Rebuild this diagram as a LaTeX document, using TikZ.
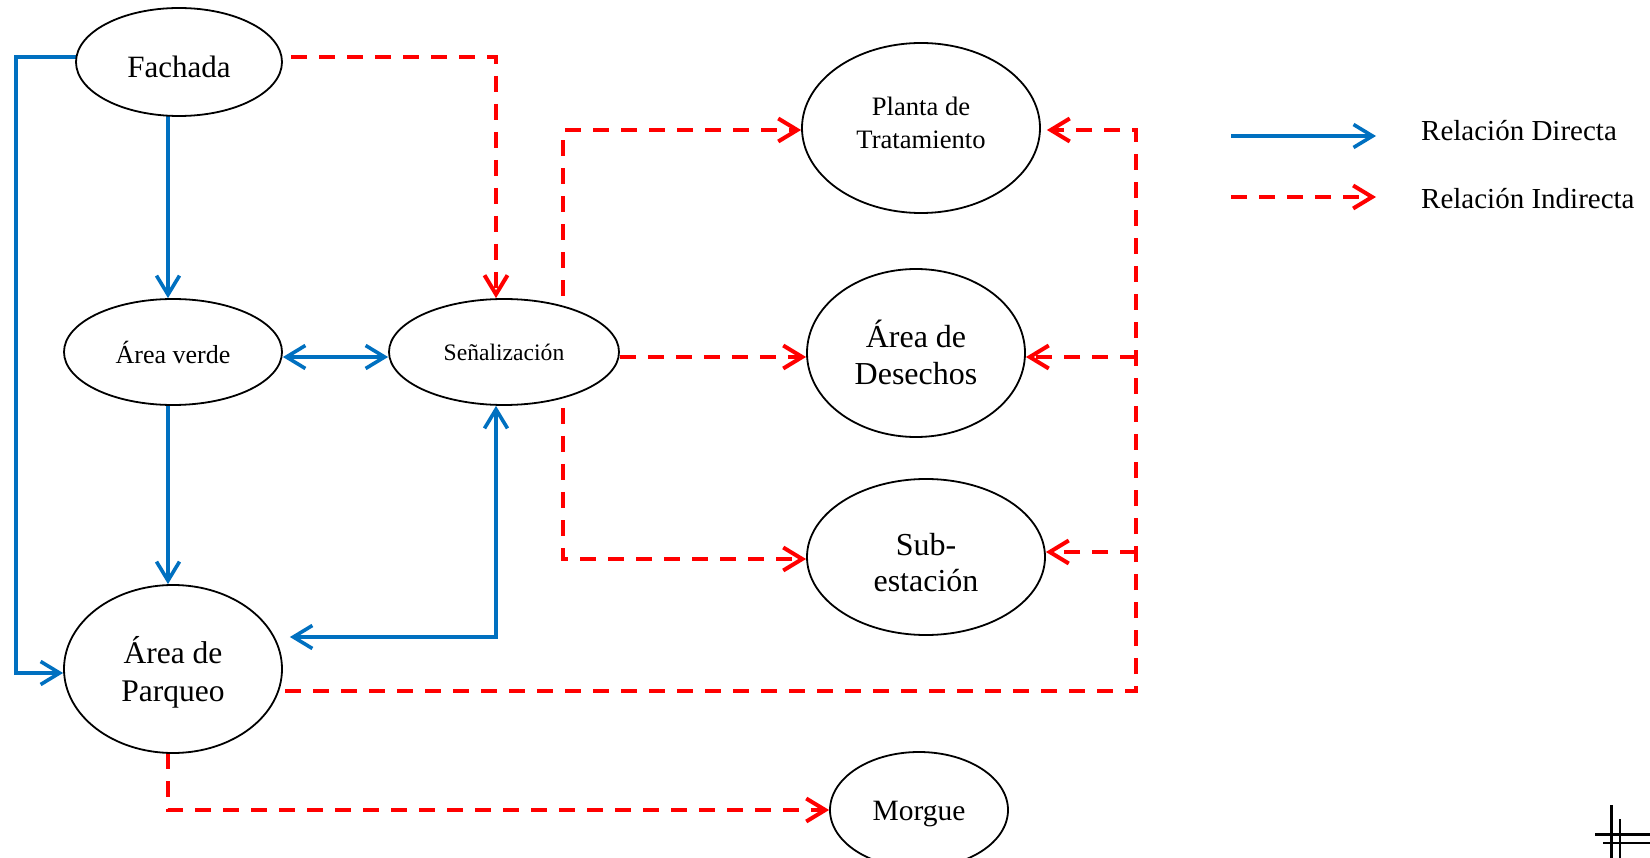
\documentclass[tikz,border=0pt]{standalone}
\usepackage{fontspec}
\setmainfont{Liberation Serif}
\usetikzlibrary{shapes.geometric,arrows.meta,backgrounds}
\definecolor{relblue}{HTML}{0070C0}
\definecolor{relred}{HTML}{FF0000}
\newcommand{\fsz}[2]{\fontsize{#1pt}{#2pt}\selectfont}
% label text lowered (negative) or raised (positive) inside its ellipse
\newcommand{\lbl}[2]{\raisebox{#1}[\height][\depth]{\begin{tabular}{@{}c@{}}#2\end{tabular}}}

\begin{document}
\begin{tikzpicture}[x=1pt,y=-1pt,
  area/.style={ellipse, draw=black, line width=1.8pt, fill=white, inner sep=0pt},
  dir/.style={draw=relblue, line width=3.6pt, -{Straight Barb[length=19pt,width=23pt]}},
  dirboth/.style={draw=relblue, line width=3.6pt, {Straight Barb[length=19pt,width=23pt]}-{Straight Barb[length=19pt,width=23pt]}},
  ind/.style={draw=relred, line width=4pt, dash pattern=on 16pt off 12pt, -{Straight Barb[length=19pt,width=23pt]}},
  legendtext/.style={anchor=west, inner sep=0pt, font=\fsz{29}{32}},
  cropmark/.style={draw=black, line cap=butt}
]
\useasboundingbox (0,0) rectangle (1650,858);

% areas of the building
\node[area, minimum width=206pt, minimum height=108pt, font=\fsz{31}{34}] (fach) at (179,62) {\lbl{-9pt}{Fachada}};
\node[area, minimum width=218pt, minimum height=106pt, font=\fsz{26}{29}] (verde) at (173,352) {\lbl{-5pt}{Área verde}};
\node[area, minimum width=230pt, minimum height=106pt, font=\fsz{23.6}{26}] (senal) at (504,352) {\lbl{-3pt}{Señalización}};
\node[area, minimum width=238pt, minimum height=170pt, font=\fsz{26.6}{33}] (planta) at (921,128) {\lbl{3pt}{Planta de\\Tratamiento}};
\node[area, minimum width=218pt, minimum height=168pt, font=\fsz{32}{37}] (desech) at (916,353) {\lbl{-5pt}{Área de\\Desechos}};
\node[area, minimum width=238pt, minimum height=156pt, font=\fsz{32}{36}] (subest) at (926,557) {\lbl{-9pt}{Sub-\\estación}};
\node[area, minimum width=218pt, minimum height=168pt, font=\fsz{31.5}{38}] (parq) at (173,669) {\lbl{-6pt}{Área de\\Parqueo}};
\node[area, minimum width=178pt, minimum height=116pt, font=\fsz{29.5}{32}] (morg) at (919,810) {\lbl{-4pt}{Morgue}};

% routing columns and rows
\coordinate (c0) at (16,673);
\coordinate (c1) at (168,0);
\coordinate (c2) at (496,0);
\coordinate (c3) at (563,0);
\coordinate (R)  at (1136,130);
\coordinate (yT) at (0,57);
\coordinate (yA) at (0,357);
\coordinate (yB) at (0,691);
\coordinate (yC) at (0,637);
\coordinate (yS) at (0,552);
\coordinate (yL) at (0,559);

\begin{scope}[on background layer]
  % direct relations
  \draw[dir] (fach.center |- yT) -| (c0) -- (parq.west |- c0);
  \draw[dir] (fach.center -| c1) -- (verde.north -| c1);
  \draw[dir] (verde.center -| c1) -- (parq.north -| c1);
  \draw[dirboth] (verde.east |- yA) -- (senal.west |- yA);
  \draw[dirboth, shorten >=7pt] (senal.south -| c2) |- (parq.east |- yC);
  % indirect relations
  \draw[ind] (fach.center |- yT) -| (senal.north -| c2);
  \draw[ind] (senal.center -| c3) |- (planta.west |- R);
  \draw[ind] (senal.east |- yA) -- (desech.west |- yA);
  \draw[ind] (senal.center -| c3) |- (subest.west |- yL);
  \draw[ind, shorten >=6pt] (parq.center |- yB) -| (R) -- (planta.east |- R);
  \draw[ind] (R |- yA) -- (desech.east |- yA);
  \draw[ind] (R |- yS) -- (subest.east |- yS);
  \draw[ind] (parq.center -| c1) |- (morg.west);
\end{scope}

% legend
\node[legendtext] (lt1) at (1421,131) {Relación Directa};
\node[legendtext] (lt2) at (1421,199) {Relación Indirecta};
\coordinate (la1) at (1231,136);
\coordinate (lb1) at (1376,136);
\coordinate (la2) at (1231,197);
\coordinate (lb2) at (1376,197);
\draw[dir] (la1) -- (lb1);
\draw[ind] (la2) -- (lb2);

% crop marks in the corner
\draw[cropmark, line width=3pt] (1611,805) -- (1611,858);
\draw[cropmark, line width=3pt] (1595,834) -- (1650,834);
\draw[cropmark, line width=1.5pt] (1620,819) -- (1620,858);
\draw[cropmark, line width=1.5pt] (1603,843) -- (1650,843);
\end{tikzpicture}
\end{document}
